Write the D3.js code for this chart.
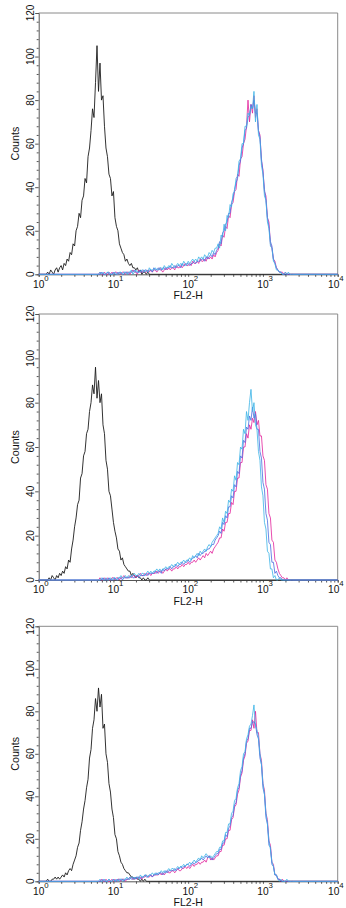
<!DOCTYPE html>
<html>
<head>
<meta charset="utf-8">
<script src="https://cdn.jsdelivr.net/npm/d3@7"></script>
<style>
  body { margin: 0; background: #fff; }
  svg text { font-family: "Liberation Sans", Arial, sans-serif; fill: #111; }
</style>
</head>
<body>
<svg id="chart" width="346" height="908"></svg>
<script>
// histogram channels are spaced evenly in log10(FL2-H)
const step = 0.02;
const blackStart = 0.10;
const colorStart = 0.80;

const xTickLabels = ["0", "1", "2", "3", "4"];   // exponents of 10
const yTickValues = [0, 20, 40, 60, 80, 100, 120];

// ---- panel 1 ----
const p1Black = [
  0,1,0,2,1,0,2,3,1,3,
  4,2,5,4,7,6,10,9,14,13,
  20,22,28,26,34,36,44,42,54,58,
  66,76,72,88,105,84,97,80,82,68,
  58,54,46,44,36,38,26,22,20,14,
  12,10,9,6,7,5,4,5,3,3,
  2,3,1,2,0,1,1,0,1,0,
  0];
const p1Magenta = [
  0,1,0,0,1,0,0,1,0,1,
  0,1,1,0,1,0,1,1,0,1,
  1,0,1,2,1,1,0,2,1,1,
  2,1,1,2,1,2,1,2,2,1,
  2,3,2,1,2,3,2,3,2,3,
  3,2,4,3,3,4,3,4,5,4,
  4,5,4,6,5,5,6,5,7,6,
  6,7,6,8,7,8,7,9,8,10,
  11,14,13,18,17,22,21,27,26,32,
  33,38,39,46,45,53,54,60,62,68,
  80,70,78,74,82,72,76,66,64,52,
  48,38,36,26,24,14,12,7,6,3,
  2,1,1,1,0,1,0,0,0,0,
  0];
const p1Blue = [
  0,0,1,0,0,0,1,0,0,0,
  1,0,0,1,0,1,0,0,1,1,
  0,1,1,1,2,1,1,1,2,1,
  1,2,2,1,2,2,1,3,2,2,
  3,2,2,3,3,2,3,3,4,3,
  3,4,3,4,4,3,5,4,4,5,
  5,4,5,5,6,5,6,6,6,7,
  7,6,8,7,8,9,8,10,9,11,
  12,15,14,19,20,23,24,28,28,33,
  35,39,42,44,50,52,58,60,66,67,
  72,73,78,76,80,74,74,66,63,53,
  47,39,34,26,22,15,13,7,5,3,
  2,1,1,0,0,0,0,0,0,0,
  0];
const p1Cyan = [
  0,1,0,1,0,0,1,1,0,0,
  0,1,0,0,1,1,0,1,1,0,
  1,1,2,0,1,2,1,1,1,2,
  2,1,2,1,3,2,2,2,3,2,
  2,3,3,2,4,3,3,4,3,5,
  4,3,4,5,4,5,4,6,5,4,
  6,5,6,7,6,7,6,8,7,8,
  7,9,8,8,10,9,11,10,12,12,
  14,12,18,17,23,20,27,26,32,31,
  37,38,44,45,52,53,60,60,68,68,
  74,73,77,76,84,70,78,64,62,50,
  46,36,34,24,21,13,12,6,5,2,
  2,1,1,0,0,1,0,1,0,0,
  0];

// ---- panel 2 ----
const p2Black = [
  0,0,1,0,2,1,0,2,1,3,
  2,4,3,6,5,9,8,14,18,24,
  28,34,36,46,48,56,58,66,68,76,
  80,88,84,96,82,90,80,84,70,66,
  54,50,40,38,32,26,22,19,14,13,
  9,10,7,6,5,4,4,2,3,2,
  1,2,1,1,0,1,0,0,1,0,
  0];
const p2Magenta = [
  0,1,0,0,1,0,1,0,0,1,
  1,0,1,1,0,1,1,2,1,1,
  1,2,1,2,2,1,2,2,3,2,
  2,3,2,3,3,2,3,3,3,4,
  3,4,4,3,4,5,4,5,5,4,
  5,5,6,5,6,6,7,6,7,7,
  8,7,8,8,9,8,9,10,9,10,
  11,10,12,11,12,13,12,14,15,16,
  17,19,19,23,22,26,26,30,30,35,
  34,40,40,46,46,53,53,60,60,66,
  64,70,68,73,71,76,70,72,65,65,
  56,54,43,41,30,28,18,17,9,8,
  5,3,2,1,1,0,1,0,0,0,
  0];
const p2Blue = [
  0,0,0,1,0,0,0,1,0,0,
  0,1,0,0,1,1,0,1,1,1,
  1,1,2,1,1,2,2,1,2,2,
  2,2,3,2,3,3,3,3,4,3,
  4,4,3,5,4,5,5,5,6,5,
  6,6,7,6,7,7,8,7,8,8,
  9,8,9,10,10,11,10,12,11,12,
  12,13,13,14,14,15,16,16,18,19,
  20,22,21,26,25,29,28,33,33,38,
  37,43,42,49,48,56,55,63,62,69,
  68,74,72,78,73,75,68,68,58,55,
  44,41,30,27,17,16,8,8,3,4,
  2,1,1,0,0,0,0,0,0,0,
  0];
const p2Cyan = [
  0,0,1,0,0,1,0,0,1,0,
  1,1,0,1,1,2,1,1,2,1,
  2,1,2,2,3,2,2,3,2,3,
  3,2,3,4,3,4,3,4,4,5,
  4,5,4,5,5,6,5,6,6,7,
  6,7,7,8,7,8,8,9,8,9,
  9,10,9,11,10,11,12,11,13,12,
  13,14,13,15,16,15,17,18,19,20,
  21,24,23,28,26,31,30,36,35,41,
  40,47,45,53,52,60,59,68,66,76,
  72,80,86,76,80,70,68,58,54,42,
  38,26,23,13,12,5,5,1,2,0,
  0,1,0,0,0,0,0,0,0,0,
  0];

// ---- panel 3 ----
const p3Black = [
  0,1,0,0,1,1,2,1,2,1,
  2,3,2,4,3,5,6,5,8,10,
  12,16,18,24,28,34,38,44,48,58,
  62,72,76,86,80,91,82,88,72,74,
  60,56,46,42,34,30,22,20,14,12,
  9,8,6,5,4,4,3,2,2,1,
  2,1,1,0,1,0,1,0,0,0,
  0];
const p3Magenta = [
  0,0,1,0,0,1,0,0,0,1,
  0,1,0,1,1,0,1,1,0,1,
  1,1,2,1,1,2,1,2,2,1,
  2,2,3,2,2,3,2,3,3,3,
  3,4,3,4,3,4,5,4,4,5,
  5,4,5,6,5,5,6,6,7,6,
  7,6,7,8,7,8,8,9,8,9,
  9,10,9,11,12,10,11,10,11,12,
  12,14,14,17,17,20,20,24,24,29,
  30,35,36,41,43,49,51,57,59,65,
  66,71,71,76,72,80,70,70,60,57,
  46,43,32,29,19,17,9,8,3,3,
  1,1,0,1,0,0,0,0,0,0,
  0];
const p3Blue = [
  0,0,0,1,0,0,0,1,0,0,
  1,0,0,1,0,1,1,0,1,1,
  1,2,1,1,2,1,2,2,1,2,
  2,3,2,2,3,3,2,3,3,4,
  3,4,4,3,4,5,4,5,5,5,
  5,6,5,6,6,7,6,7,7,8,
  8,7,8,9,8,9,9,10,10,11,
  10,11,12,11,12,11,10,11,12,13,
  13,15,15,18,18,22,21,25,26,30,
  31,36,37,43,44,50,52,58,60,66,
  67,72,72,75,75,74,69,67,58,55,
  44,41,30,27,17,16,8,7,3,3,
  1,1,0,0,0,0,0,0,0,0,
  0];
const p3Cyan = [
  0,1,0,0,1,0,0,1,0,0,
  1,0,1,0,1,1,0,1,1,2,
  1,1,2,2,1,2,2,1,3,2,
  2,3,3,2,3,3,4,3,4,3,
  4,4,5,4,5,4,5,6,5,6,
  6,5,6,7,6,7,7,8,7,8,
  8,9,8,9,10,9,10,11,10,12,
  11,12,13,12,11,12,11,12,13,14,
  14,16,16,19,19,23,23,27,27,32,
  33,38,39,44,46,52,54,60,61,67,
  69,73,74,78,83,73,71,68,60,55,
  46,41,32,27,19,15,9,7,3,3,
  1,0,1,0,0,0,1,0,0,0,
  0];

// plot frames for the three stacked panels
const plotLeft = 38.7, plotRight = 337.7;
const panels = [
  { top: 13,    bottom: 274.3, black: p1Black, colors: [p1Magenta, p1Blue, p1Cyan] },
  { top: 314,   bottom: 580,   black: p2Black, colors: [p2Magenta, p2Blue, p2Cyan] },
  { top: 626.3, bottom: 881.3, black: p3Black, colors: [p3Magenta, p3Blue, p3Cyan] }
];
const seriesColors = ["#e2249c", "#4c6de0", "#3cb3e6"];

const svg = d3.select("#chart");

const x = d3.scaleLog().domain([1, 10000]).range([plotLeft, plotRight]);

// turn a list of counts into [FL2-H, count] points, padded with zero to both ends
function toPoints(values, start) {
  const pts = values.map((v, i) => [Math.pow(10, start + i * step), v]);
  return [[1, 0]].concat(pts, [[10000, 0]]);
}

const xMinor = [];
for (let e = 0; e < 4; e++) {
  for (let m = 1; m < 10; m++) xMinor.push(m * Math.pow(10, e));
}
xMinor.push(10000);

panels.forEach(p => {
  const y = d3.scaleLinear().domain([0, 120]).range([p.bottom, p.top]);
  const g = svg.append("g");

  const line = d3.line()
    .x(d => x(d[0]))
    .y(d => y(d[1]));

  // frame: top and right edges
  g.append("path")
    .attr("d", `M${plotLeft},${p.top}H${plotRight}V${p.bottom}`)
    .attr("fill", "none")
    .attr("stroke", "#8a8a8a")
    .attr("stroke-width", 1);

  // x axis with log ticks
  const xAxis = g.append("g")
    .attr("transform", `translate(0,${p.bottom})`)
    .call(d3.axisBottom(x).tickValues(xMinor).tickSize(2.5).tickFormat(""));
  xAxis.select(".domain").attr("stroke", "#555");
  xAxis.selectAll(".tick line").attr("stroke", "#555");

  // y axis, major every 20, minor every 4
  const yAxis = g.append("g")
    .attr("transform", `translate(${plotLeft},0)`)
    .call(d3.axisLeft(y).tickValues(d3.range(0, 121, 4)).tickSize(2).tickFormat(""));
  yAxis.select(".domain").attr("stroke", "#555");
  yAxis.selectAll(".tick line").attr("stroke", "#555")
    .attr("x2", d => d % 20 === 0 ? -3.5 : -2);

  // y tick labels (rotated)
  g.selectAll(".ylab")
    .data(yTickValues)
    .join("text")
    .attr("class", "ylab")
    .attr("transform", d => `translate(${plotLeft - 4.3},${y(d)}) rotate(-90)`)
    .attr("text-anchor", "middle")
    .attr("font-size", 10)
    .text(d => d);

  g.append("text")
    .attr("transform", `translate(18.5,${(p.top + p.bottom) / 2}) rotate(-90)`)
    .attr("text-anchor", "middle")
    .attr("font-size", 10.7)
    .text("Counts");

  // x tick labels 10^n
  xTickLabels.forEach((ex, i) => {
    const tx = x(Math.pow(10, +ex));
    const left = i === xTickLabels.length - 1 ? 328 : tx - 5.7;
    const t = g.append("text")
      .attr("x", left)
      .attr("y", p.bottom + 13.4)
      .attr("font-size", 10.2);
    t.append("tspan").text("10");
    t.append("tspan").attr("dy", -7.2).attr("font-size", 7.8).text(ex);
  });

  g.append("text")
    .attr("x", (plotLeft + plotRight) / 2)
    .attr("y", p.bottom + 24.5)
    .attr("text-anchor", "middle")
    .attr("font-size", 10.5)
    .text("FL2-H");

  // histograms
  g.append("path")
    .datum(toPoints(p.black, blackStart))
    .attr("d", line)
    .attr("fill", "none")
    .attr("stroke", "#1c1c1c")
    .attr("stroke-width", 0.9);

  p.colors.forEach((vals, k) => {
    g.append("path")
      .datum(toPoints(vals, colorStart))
      .attr("d", line)
      .attr("fill", "none")
      .attr("stroke", seriesColors[k])
      .attr("stroke-width", 0.9)
      .attr("opacity", 0.9);
  });
});
</script>
</body>
</html>
